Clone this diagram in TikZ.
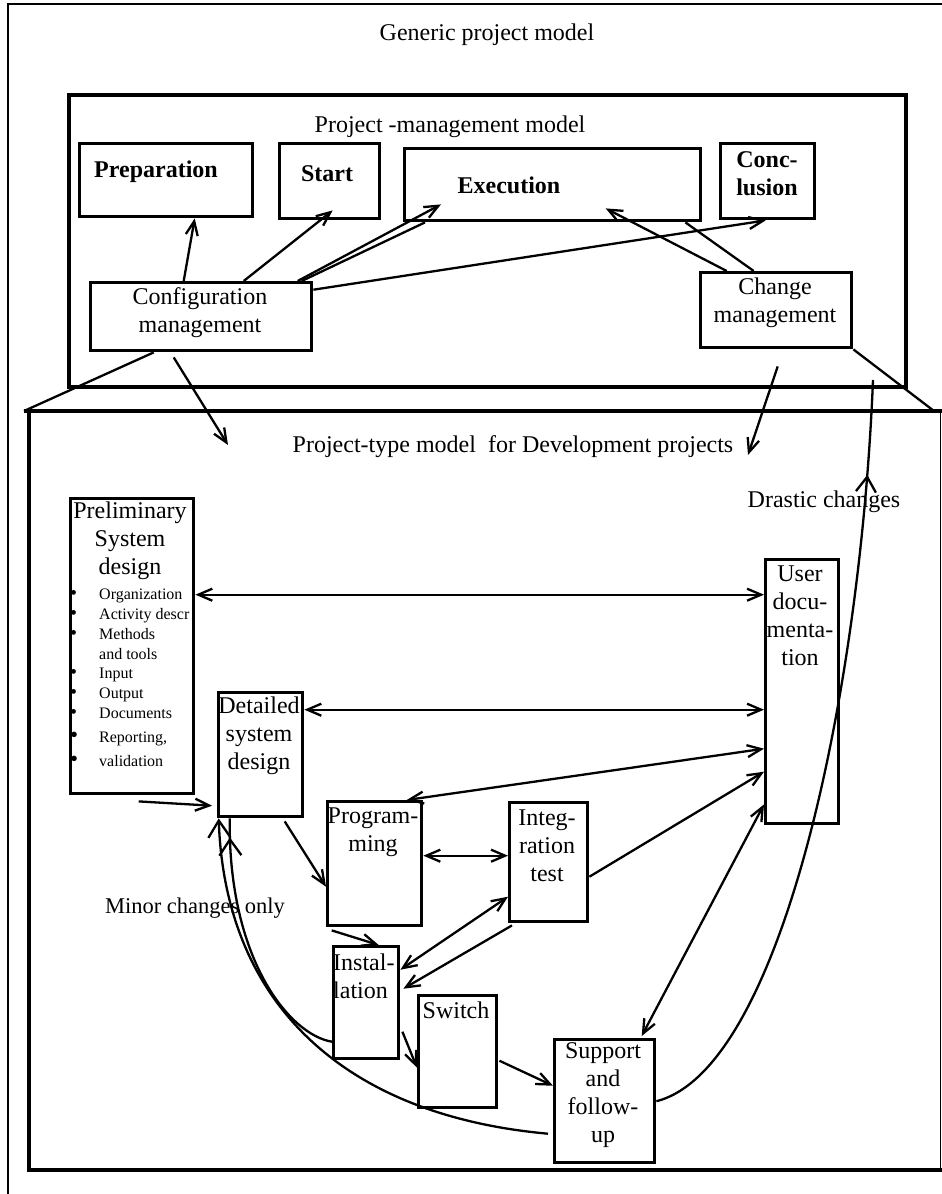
\documentclass[tikz,border=0pt]{standalone}
\usepackage{fontspec}
\setmainfont{Liberation Serif}
\usetikzlibrary{arrows.meta,decorations.markings}
\newcommand\bigfont{\fontsize{24}{28}\selectfont}
\newcommand\smallfont{\fontsize{16}{19.7}\selectfont}
\newcommand\dotmark{{\fontsize{20}{19.7}\selectfont\textbullet}}
\newcommand\bigdotmark{{\fontsize{23}{19.7}\selectfont\textbullet}}
\begin{document}
\begin{tikzpicture}[x=1pt,y=-1pt,
  font=\bigfont,
  box/.style={draw,line width=3.4pt,inner sep=0pt,anchor=north west},
  frame/.style={draw,line width=4.2pt,inner sep=0pt,anchor=north west},
  txt/.style={inner sep=0pt,align=center},
  bold/.style={txt,font=\bigfont\bfseries},
  link/.style={line width=2.3pt},
  arr/.style={link,-{Straight Barb[length=14pt,width=12pt]}},
  darr/.style={link,{Straight Barb[length=14pt,width=12pt]}-{Straight Barb[length=14pt,width=12pt]}},
  markat/.style 2 args={postaction={decorate},decoration={markings,
    mark=at position #1 with {\arrow{Straight Barb[#2]}}}}
]
\useasboundingbox (0,0) rectangle (942,1194);

% outer frame of the generic model
\draw[line width=2.8pt] (8,1194) -- (8,4) -- (942,4);
\node[txt] (gen) at (487,35) {Generic project model};

% project-management model
\node[frame,minimum width=837pt,minimum height=292pt] (pm) at (67,93) {};
\node[txt] (pmtitle) at (450,127) {Project -management model};

\node[box,minimum width=173pt,minimum height=73pt] (prep) at (78,142) {};
\node[box,minimum width=100pt,minimum height=75pt] (start) at (278,142) {};
\node[box,minimum width=296pt,minimum height=72pt] (exec) at (403,147) {};
\node[box,minimum width=94pt,minimum height=75pt] (concl) at (719,142) {};
\node[box,minimum width=221pt,minimum height=68pt] (config) at (89,281) {};
\node[box,minimum width=151pt,minimum height=75pt] (change) at (699,271) {};

\node[bold] (prep-t) at (156,172) {Preparation};
\node[bold] (start-t) at (327,174) {Start};
\node[bold] (exec-t) at (509,185) {Execution};
\node[bold] (concl-t) at (767,174) {Conc-\\lusion};
\node[txt] (config-t) at (200,313) {Configuration\\management};
\node[txt] (change-t) at (775,303) {Change\\management};

\draw[arr] ([xshift=-17.5pt]config.north) -- ([xshift=28.5pt]prep.south);
\draw[arr] ([xshift=42.5pt]config.north) -- ([xshift=3pt,yshift=10pt]start.south);
\draw[arr] ([xshift=96.5pt]config.north) -- ([xshift=38pt,yshift=18pt]exec.south west);
\draw[link] ([xshift=100.5pt]config.north) -- ([xshift=22pt]exec.south west);
\draw[arr] ([yshift=27pt]config.east) -- ([xshift=-2pt]concl.south);
\draw[arr] ([xshift=-49.5pt]change.north) -- ([xshift=53pt,yshift=14pt]exec.south);
\draw[link] ([xshift=-22.5pt]change.north) -- ([xshift=-17pt]exec.south east);

% project-type model
\coordinate (ptl) at (24,411);
\coordinate (ptr) at (934,411);
\coordinate (cfgin) at (228,445);
\coordinate (chgin) at (748,455);
\coordinate (drtop) at (873,380);
\draw[line width=4.2pt] (ptl) -- (942,411);
\draw[line width=3.4pt] (29,411) -- (29,1170) -- (942,1170);
\draw[line width=1pt] (940,411) -- (940,1170);

\draw[link] ([xshift=-47.5pt]config.south) -- (ptl);
\draw[link] (change.south east) -- (ptr);
\draw[arr] ([xshift=-27.5pt,yshift=-5pt]config.south) -- (cfgin);
\draw[arr] ([xshift=1.5pt,yshift=-17pt]change.south) -- (chgin);

\node[txt] (pttitle) at (513,447) {Project-type model~~for Development projects};
\node[txt] (drastic) at (824,502) {Drastic changes};
\node[txt,font=\fontsize{22.5}{26}\selectfont] (minor) at (195,908) {Minor changes only};

\node[box,minimum width=123pt,minimum height=295pt] (prelim) at (69,497) {};
\node[box,minimum width=84pt,minimum height=124pt] (detailed) at (217,691) {};
\node[box,minimum width=73pt,minimum height=264pt] (userdoc) at (764,558) {};
\node[box,minimum width=94pt,minimum height=124pt] (prog) at (326,800) {};
\node[box,minimum width=78pt,minimum height=119pt] (integ) at (508,801) {};
\node[box,minimum width=65pt,minimum height=112pt] (install) at (332,945) {};
\node[box,minimum width=78pt,minimum height=112pt] (switch) at (417,994) {};
\node[box,minimum width=100pt,minimum height=123pt] (support) at (553,1038) {};

\node[txt] (prelim-t) at (130,541) {Preliminary\\System\\design};
\node[inner sep=0pt,anchor=north west,font=\smallfont] (prelim-list) at (70,586) {%
  \begin{tabular}{@{}p{29pt}@{}l@{}}
  \dotmark    & Organization\\
  \dotmark    & Activity descr\\
  \dotmark    & Methods\\
              & and tools\\
  \dotmark    & Input\\
  \dotmark    & Output\\
  \dotmark    & Documents\\[4.3pt]
  \bigdotmark & Reporting,\\[4.3pt]
  \bigdotmark & validation
  \end{tabular}};
\node[txt] (detailed-t) at (259,736) {Detailed\\system\\design};
\node[txt] (userdoc-t) at (800,616) {User\\docu-\\menta-\\tion};
\node[txt] (prog-t) at (373,832) {Program-\\ming};
\node[txt] (integ-t) at (547,846) {Integ-\\ration\\test};
\node[txt,align=left,anchor=west] (install-t) at (333,976) {Instal-\\lation};
\node[txt] (switch-t) at (456,1010) {Switch};
\node[txt] (support-t) at (603,1095) {Support\\and\\follow-\\up};

% links between the development phases
\draw[darr] ([yshift=51.5pt]prelim.east) -- ([yshift=97pt]userdoc.west);
\draw[darr] ([yshift=45pt]detailed.east) -- ([yshift=-18pt]userdoc.west);
\draw[darr] ([xshift=32pt]prog.north) -- ([yshift=-57pt]userdoc.west);
\draw[arr] ([yshift=-14.5pt]integ.east) -- ([yshift=-80pt]userdoc.west);
\draw[darr] ([yshift=21pt]userdoc.south west) -- ([xshift=37pt,yshift=2pt]support.north);
\draw[arr] ([xshift=6.5pt,yshift=-6pt]prelim.south) -- ([xshift=-5pt,yshift=-51pt]detailed.west);
\draw[arr] ([xshift=24pt,yshift=-3pt]detailed.south) -- ([yshift=-23pt]prog.west);
\draw[darr] ([yshift=8pt]prog.east) -- ([yshift=6.5pt]integ.west);
\draw[arr] ([xshift=-43pt,yshift=-3pt]prog.south) -- ([xshift=12.5pt]install.north);
\draw[darr] ([yshift=33pt]install.east) -- ([yshift=-34.5pt]integ.west);
\draw[arr] ([xshift=4pt,yshift=-2pt]integ.south west) -- ([xshift=3pt,yshift=14pt]install.east);
\draw[arr] ([xshift=2pt,yshift=-29pt]install.east) -- ([yshift=-16pt]switch.west);
\draw[arr] ([xshift=1pt,yshift=-9pt]switch.east) -- ([yshift=15.5pt]support.west);

% change loops
\draw[link,-{Straight Barb[length=17pt,width=22pt]}]
  ([xshift=-5pt,yshift=-32.5pt]support.west) .. controls (340,1115) and (225,1000) .. ([xshift=-42pt]detailed.south);
\draw[link,markat={-19pt}{length=16pt,width=22pt}]
  ([yshift=-39pt]install.west) .. controls (290,1035) and (228,960) .. ([xshift=-31pt]detailed.south);
\draw[link,markat={-95pt}{length=15pt,width=20pt}]
  (support.east) .. controls (780,1070) and (860,700) .. (drtop);
\end{tikzpicture}
\end{document}
